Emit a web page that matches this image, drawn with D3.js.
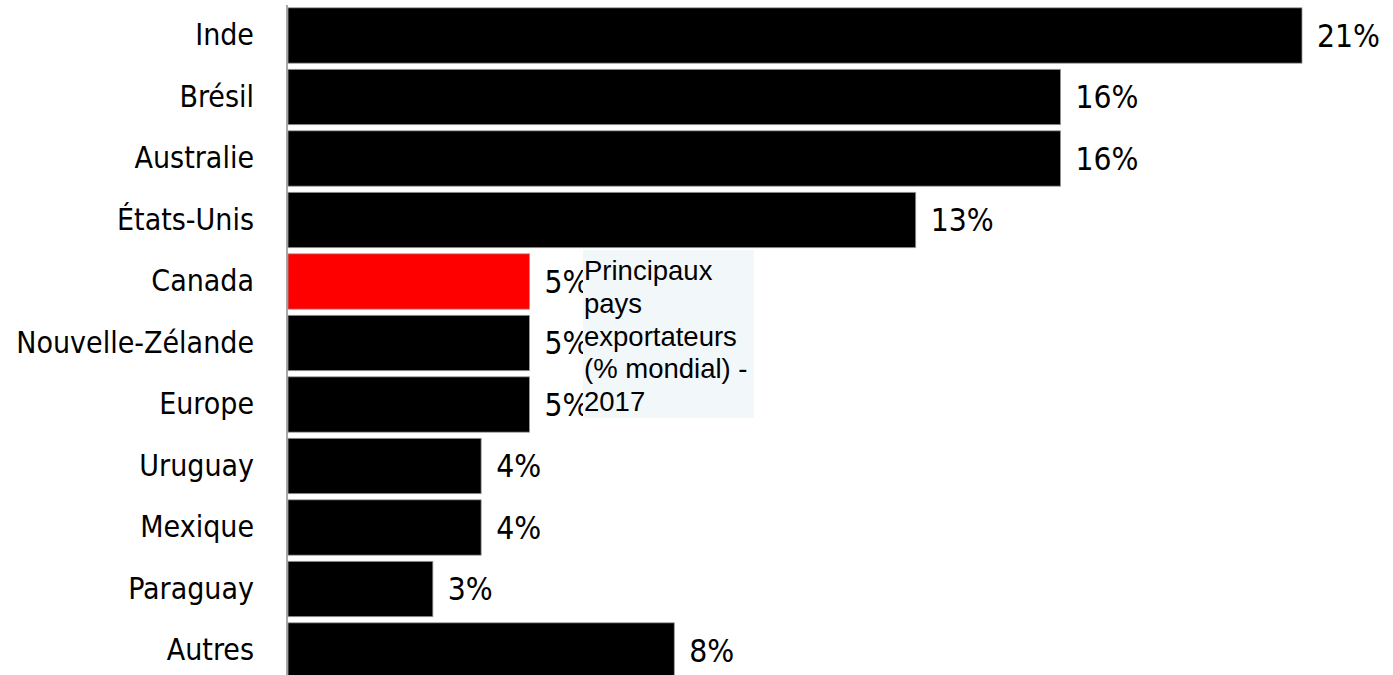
<!DOCTYPE html>
<html>
<head>
<meta charset="utf-8">
<script src="https://cdn.jsdelivr.net/npm/d3@7"></script>
<style>
  body { margin: 0; background: #fff; }
  #chart { width: 1393px; height: 675px; }
</style>
</head>
<body>
<div id="chart"></div>
<script>
const countries = ["Inde", "Brésil", "Australie", "États-Unis", "Canada", "Nouvelle-Zélande", "Europe", "Uruguay", "Mexique", "Paraguay", "Autres"];
const shares = [21, 16, 16, 13, 5, 5, 5, 4, 4, 3, 8];
const highlight = "Canada";
const noteLines = ["Principaux", "pays", "exportateurs", "(% mondial) -", "2017"];

const width = 1393;
const height = 675;
const axisX = 287;
const labelFont = "'DejaVu Sans Condensed', 'DejaVu Sans', sans-serif";

const svg = d3.select("#chart").append("svg")
  .attr("width", width)
  .attr("height", height);

const scaleX = d3.scaleLinear()
  .domain([0, 21])
  .range([axisX + 1, 1302]);

const scaleY = d3.scaleBand()
  .domain(countries)
  .range([4.75, 681.25])
  .paddingInner(0.1)
  .paddingOuter(0.05);

const data = countries.map((c, i) => ({ name: c, value: shares[i] }));

// bars
svg.append("g")
  .selectAll("rect")
  .data(data)
  .enter()
  .append("rect")
  .attr("x", scaleX(0))
  .attr("y", (d) => scaleY(d.name))
  .attr("width", (d) => scaleX(d.value) - scaleX(0))
  .attr("height", scaleY.bandwidth())
  .style("fill", (d) => (d.name === highlight ? "#ff0000" : "#000"))
  .style("stroke", "#9a9a9a")
  .style("stroke-width", 0.8);

// value labels
svg.append("g")
  .selectAll("text")
  .data(data)
  .enter()
  .append("text")
  .attr("x", (d) => scaleX(d.value) + 15)
  .attr("y", (d) => scaleY(d.name) + scaleY.bandwidth() / 2)
  .attr("dy", "0.36em")
  .style("font-family", labelFont)
  .style("font-size", "31.5px")
  .style("fill", "#000")
  .text((d) => d.value + "%");

// category axis
const yAxis = d3.axisLeft(scaleY).tickSize(0).tickPadding(33);
const gy = svg.append("g")
  .attr("transform", "translate(" + axisX + ",0)")
  .call(yAxis);
gy.select(".domain").remove();
gy.selectAll("text")
  .style("font-family", labelFont)
  .style("font-size", "30px")
  .style("fill", "#000");

svg.append("line")
  .attr("x1", axisX)
  .attr("x2", axisX)
  .attr("y1", 5)
  .attr("y2", height)
  .style("stroke", "#8c8c8c")
  .style("stroke-width", 1.5);

// note box
const note = svg.append("g").attr("transform", "translate(583,250)");
note.append("rect")
  .attr("width", 171)
  .attr("height", 168)
  .style("fill", "#f2f7fa");
note.append("g")
  .selectAll("text")
  .data(noteLines)
  .enter()
  .append("text")
  .attr("x", 1)
  .attr("y", (d, i) => 30 + i * 32.8)
  .style("font-family", "'Liberation Sans', Arial, sans-serif")
  .style("font-size", "27.5px")
  .style("fill", "#000")
  .text((d) => d);
</script>
</body>
</html>
